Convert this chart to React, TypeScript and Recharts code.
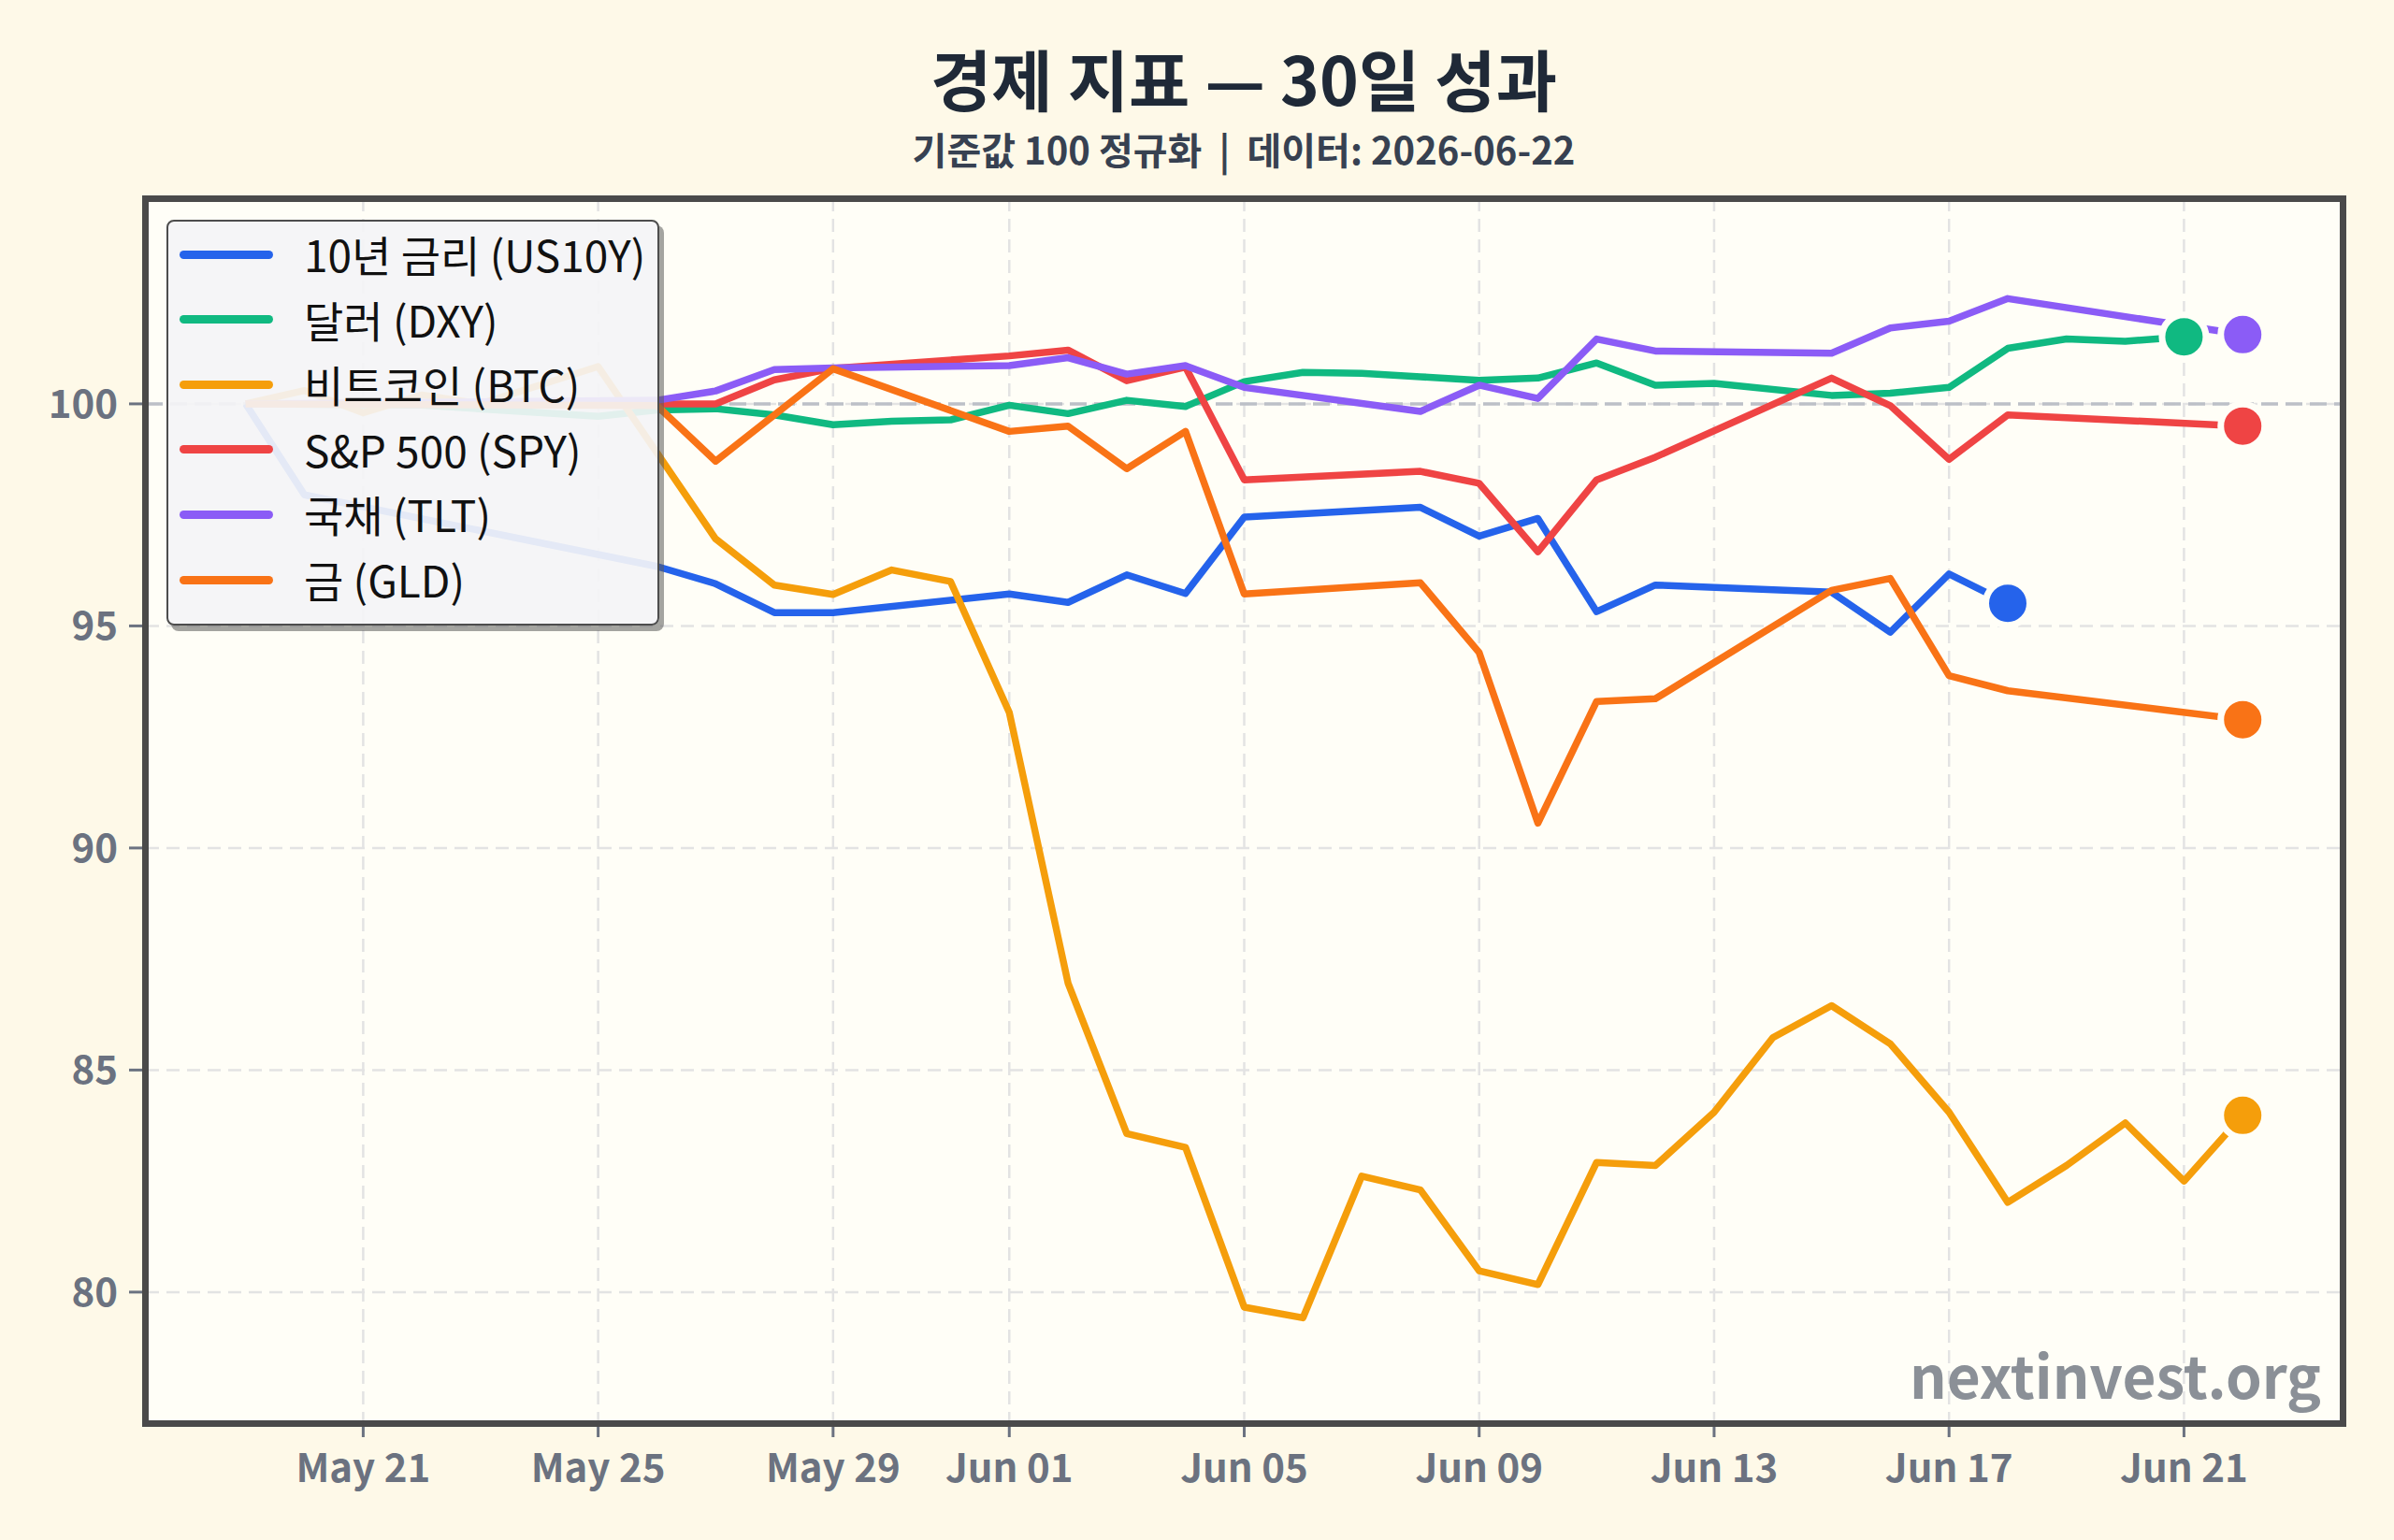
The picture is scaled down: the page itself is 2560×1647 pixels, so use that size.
import React from 'react';
import { ComposedChart, Line, XAxis, YAxis, CartesianGrid, ReferenceLine, ReferenceDot } from 'recharts';

const N = null;

const dates = ["May 19","May 20","May 21","May 22","May 23","May 24","May 25","May 26","May 27","May 28","May 29","May 30","May 31","Jun 01","Jun 02","Jun 03","Jun 04","Jun 05","Jun 06","Jun 07","Jun 08","Jun 09","Jun 10","Jun 11","Jun 12","Jun 13","Jun 14","Jun 15","Jun 16","Jun 17","Jun 18","Jun 19","Jun 20","Jun 21","Jun 22"];
const xTickLabels = ["May 21","May 25","May 29","Jun 01","Jun 05","Jun 09","Jun 13","Jun 17","Jun 21"];
const yTicks = [80, 85, 90, 95, 100];

const us10y = [100, 97.95, N, N, N, N, N, 96.34, 95.95, 95.30, 95.30, N, N, 95.72, 95.53, 96.15, 95.73, 97.45, N, N, 97.67, 97.02, 97.42, 95.32, 95.92, N, N, 95.76, 94.86, 96.17, 95.51, N, N, N, N];
const dxy = [100, N, N, 99.97, N, N, 99.72, 99.86, 99.89, 99.75, 99.53, 99.61, 99.64, 99.97, 99.78, 100.08, 99.94, 100.5, 100.71, 100.69, 100.61, 100.53, 100.58, 100.92, 100.42, 100.46, N, 100.19, 100.24, 100.37, 101.25, 101.46, 101.41, 101.51, N];
const btc = [100, 100.3, 99.8, 100.2, 100.0, 100.42, 100.84, 98.9, 96.96, 95.92, 95.71, 96.26, 96.0, 93.05, 86.96, 83.57, 83.26, 79.66, 79.42, 82.61, 82.30, 80.48, 80.17, 82.92, 82.85, 84.05, 85.73, 86.45, 85.59, 84.05, 82.02, 82.85, 83.81, 82.50, 83.98];
const spy = [100, N, N, N, N, N, N, 100.0, 100.0, 100.54, 100.8, N, N, 101.08, 101.21, 100.52, 100.83, 98.29, N, N, 98.48, 98.21, 96.67, 98.29, 98.8, N, N, 100.58, 99.96, 98.75, 99.75, N, N, N, 99.5];
const tlt = [100, N, N, N, N, N, N, 100.08, 100.29, 100.77, 100.81, N, N, 100.86, 101.04, 100.67, 100.86, 100.37, N, N, 99.83, 100.42, 100.12, 101.46, 101.19, N, N, 101.14, 101.71, 101.86, 102.37, N, N, N, 101.56];
const gld = [100, N, N, N, N, N, N, 99.96, 98.71, N, 100.79, N, N, 99.38, 99.5, 98.54, 99.38, 95.72, N, N, 95.97, 94.4, 90.56, 93.3, 93.36, N, N, 95.8, 96.07, 93.88, 93.54, N, N, N, 92.89];

const seriesNames = ["10년 금리 (US10Y)", "달러 (DXY)", "비트코인 (BTC)", "S&P 500 (SPY)", "국채 (TLT)", "금 (GLD)"];
const seriesKeys = ["us10y", "dxy", "btc", "spy", "tlt", "gld"];
const seriesColors = ["#2563eb", "#10b981", "#f59e0b", "#ef4444", "#8b5cf6", "#f97316"];
const seriesValues = [us10y, dxy, btc, spy, tlt, gld];

const FIG_BG = "#fef9e8";
const AX_BG = "#fffef7";
const FONT = "'Noto Sans CJK KR', 'Noto Sans', sans-serif";

const data = dates.map((d, i) => {
  const row: any = { i, date: d };
  seriesKeys.forEach((k, s) => { row[k] = seriesValues[s][i]; });
  return row;
});

const xTicks = xTickLabels.map((l) => dates.indexOf(l));

function lastPoint(arr: (number | null)[]) {
  for (let i = arr.length - 1; i >= 0; i--) {
    if (arr[i] !== null) return { x: i, y: arr[i] as number };
  }
  return { x: 0, y: 0 };
}

export default function App() {
  return (
    <div style={{ position: 'absolute', left: 0, top: 0, width: 2560, height: 1647, background: FIG_BG, fontFamily: FONT, overflow: 'hidden' }}>
      <div style={{ position: 'absolute', left: 330, width: 2000, top: 47, textAlign: 'center', fontSize: 71, lineHeight: 1, fontWeight: 700, color: '#1f2937' }}>
        경제 지표 — 30일 성과
      </div>
      <div style={{ position: 'absolute', left: 330, width: 2000, top: 139, textAlign: 'center', fontSize: 40, lineHeight: 1, fontWeight: 700, color: '#374151', whiteSpace: 'pre' }}>
        {"기준값 100 정규화  |  데이터: 2026-06-22"}
      </div>
      <div style={{ position: 'absolute', left: 0, top: 0 }}>
        <ComposedChart width={2560} height={1647} data={data} margin={{ top: 212, right: 55, bottom: 25, left: 16 }}>
          <CartesianGrid stroke="#e3e3e3" strokeDasharray="14 8" strokeWidth={2.5} fill={AX_BG} />
          <XAxis
            type="number"
            dataKey="i"
            domain={[-1.7, 35.7]}
            allowDataOverflow
            ticks={xTicks}
            interval={0}
            tickFormatter={(v: number) => dates[v]}
            height={100}
            axisLine={false}
            tickSize={15}
            tickMargin={18}
            tickLine={{ stroke: '#6b7280', strokeWidth: 3 }}
            tick={{ fill: '#6b7280', fontSize: 42, fontWeight: 700, fontFamily: FONT }}
          />
          <YAxis
            type="number"
            domain={[77.05, 104.63]}
            allowDataOverflow
            ticks={yTicks}
            interval={0}
            width={140}
            axisLine={false}
            tickSize={18}
            tickMargin={12}
            tickLine={{ stroke: '#6b7280', strokeWidth: 3 }}
            tick={{ fill: '#6b7280', fontSize: 42, fontWeight: 700, fontFamily: FONT }}
          />
          <ReferenceLine y={100} stroke="#bcc0c7" strokeWidth={3.5} strokeDasharray="18 8" />
          {seriesKeys.map((k, s) => (
            <Line
              key={k}
              type="linear"
              dataKey={k}
              stroke={seriesColors[s]}
              strokeWidth={7.5}
              dot={false}
              activeDot={false}
              connectNulls
              strokeLinejoin="round"
              isAnimationActive={false}
            />
          ))}
          {seriesValues.map((arr, s) => {
            const p = lastPoint(arr);
            return (
              <ReferenceDot key={'d' + s} x={p.x} y={p.y} r={23.5} fill={seriesColors[s]} stroke={AX_BG} strokeWidth={7} />
            );
          })}
        </ComposedChart>
      </div>
      {/* axes frame */}
      <div style={{ position: 'absolute', left: 152, top: 209, width: 2357, height: 1317, border: '7px solid #4a4a4a', boxSizing: 'border-box', pointerEvents: 'none' }} />
      {/* watermark */}
      <div style={{ position: 'absolute', right: 78, top: 1438, fontSize: 62, lineHeight: 1, fontWeight: 700, color: '#8b9097', whiteSpace: 'nowrap' }}>
        nextinvest.org
      </div>
      {/* legend */}
      <div style={{ position: 'absolute', left: 178, top: 235, width: 527, height: 434, boxSizing: 'border-box', border: '2.5px solid #4d4d4d', borderRadius: 8, background: 'rgba(244,244,246,0.92)', boxShadow: '5px 6px 0 rgba(90,90,90,0.55)' }}>
        {seriesNames.map((name, s) => (
          <div key={name} style={{ position: 'absolute', left: 0, top: 35 + 69.6 * s - 30, height: 60, width: '100%' }}>
            <div style={{ position: 'absolute', left: 12, top: 25.5, width: 100, height: 9, borderRadius: 5, background: seriesColors[s] }} />
            <div style={{ position: 'absolute', left: 145, top: -1, height: 60, lineHeight: '60px', fontSize: 46, color: '#111', whiteSpace: 'nowrap' }}>
              {name}
            </div>
          </div>
        ))}
      </div>
    </div>
  );
}
